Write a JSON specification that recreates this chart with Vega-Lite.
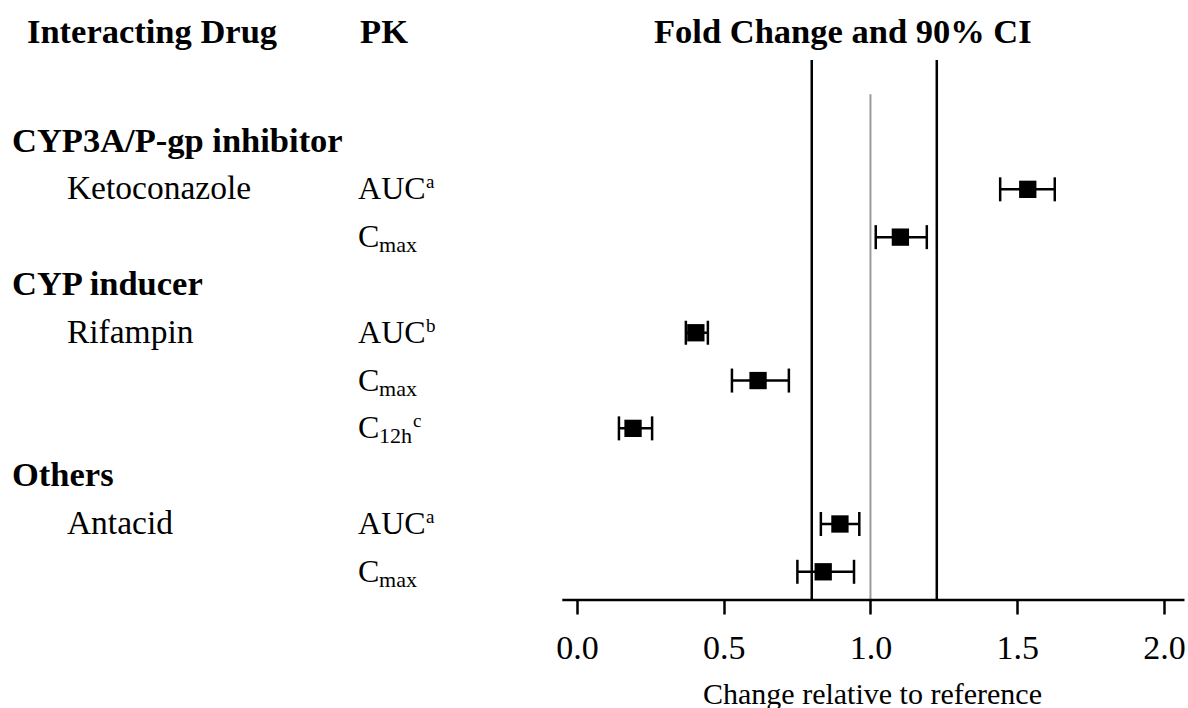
{
  "$schema": "https://vega.github.io/schema/vega-lite/v6.json",
  "width": 1188,
  "height": 600,
  "autosize": {"type": "none"},
  "padding": {"left": 0, "top": 0, "right": 0, "bottom": 108},
  "background": "white",
  "config": {"view": {"stroke": null}, "font": "Liberation Serif"},
  "datasets": {
    "est": [
      {"row": 1, "est": 1.536, "lo": 1.442, "hi": 1.628},
      {"row": 2, "est": 1.102, "lo": 1.018, "hi": 1.192},
      {"row": 4, "est": 0.405, "lo": 0.371, "hi": 0.446},
      {"row": 5, "est": 0.617, "lo": 0.528, "hi": 0.722},
      {"row": 6, "est": 0.191, "lo": 0.143, "hi": 0.256},
      {"row": 8, "est": 0.896, "lo": 0.831, "hi": 0.962},
      {"row": 9, "est": 0.839, "lo": 0.751, "hi": 0.944}
    ],
    "groups": [
      {"row": 0, "label": "CYP3A/P-gp inhibitor"},
      {"row": 3, "label": "CYP inducer"},
      {"row": 7, "label": "Others"}
    ],
    "drugs": [
      {"row": 1, "label": "Ketoconazole"},
      {"row": 4, "label": "Rifampin"},
      {"row": 8, "label": "Antacid"}
    ],
    "pk": [
      {"row": 1, "main": "AUC", "sub": "", "sup": "a"},
      {"row": 2, "main": "C", "sub": "max", "sup": ""},
      {"row": 4, "main": "AUC", "sub": "", "sup": "b"},
      {"row": 5, "main": "C", "sub": "max", "sup": ""},
      {"row": 6, "main": "C", "sub": "12h", "sup": "c"},
      {"row": 8, "main": "AUC", "sub": "", "sup": "a"},
      {"row": 9, "main": "C", "sub": "max", "sup": ""}
    ],
    "limits": [{"ref": 0.8}, {"ref": 1.226}],
    "unity": [{"ref": 1.0}],
    "one": [{"id": 1}]
  },
  "layer": [
    {
      "data": {"name": "limits"},
      "mark": {"type": "rule", "color": "black", "strokeWidth": 2.5},
      "encoding": {
        "x": {"field": "ref", "type": "quantitative",
          "scale": {"domain": [-1.966, 2.082], "nice": false, "zero": false},
          "axis": {"values": [0, 0.5, 1, 1.5, 2], "format": ".1f", "domain": false, "grid": false,
            "tickSize": 14, "tickWidth": 2.5, "tickColor": "black",
            "labelFont": "Liberation Serif", "labelFontSize": 34, "labelColor": "black", "labelPadding": 17,
            "labelFlush": false, "labelOverlap": false,
            "title": "Change relative to reference", "titleFont": "Liberation Serif", "titleFontSize": 30,
            "titleFontWeight": "normal", "titleColor": "black", "titleX": 872, "titleY": 103,
            "titleBaseline": "alphabetic", "titleAlign": "center"}},
        "y": {"datum": -1.705, "type": "quantitative",
          "scale": {"domain": [-2.96, 9.59], "reverse": true, "nice": false, "zero": false}, "axis": null},
        "y2": {"datum": 9.59}
      }
    },
    {
      "data": {"name": "unity"},
      "mark": {"type": "rule", "color": "#9a9a9a", "strokeWidth": 2},
      "encoding": {
        "x": {"field": "ref", "type": "quantitative"},
        "y": {"datum": -0.99, "type": "quantitative"},
        "y2": {"datum": 9.59}
      }
    },
    {
      "data": {"name": "one"},
      "mark": {"type": "rule", "color": "black", "strokeWidth": 2.5},
      "encoding": {
        "x": {"datum": -0.05, "type": "quantitative"},
        "x2": {"datum": 2.07},
        "y": {"datum": 9.59, "type": "quantitative"}
      }
    },
    {
      "data": {"name": "est"},
      "mark": {"type": "rule", "color": "black", "strokeWidth": 2.5},
      "encoding": {
        "x": {"field": "lo", "type": "quantitative"},
        "x2": {"field": "hi"},
        "y": {"field": "row", "type": "quantitative"}
      }
    },
    {
      "data": {"name": "est"},
      "mark": {"type": "tick", "orient": "vertical", "size": 24, "thickness": 2.5, "color": "black", "opacity": 1},
      "encoding": {
        "x": {"field": "lo", "type": "quantitative"},
        "y": {"field": "row", "type": "quantitative"}
      }
    },
    {
      "data": {"name": "est"},
      "mark": {"type": "tick", "orient": "vertical", "size": 24, "thickness": 2.5, "color": "black", "opacity": 1},
      "encoding": {
        "x": {"field": "hi", "type": "quantitative"},
        "y": {"field": "row", "type": "quantitative"}
      }
    },
    {
      "data": {"name": "est"},
      "mark": {"type": "square", "size": 300, "filled": true, "color": "black", "opacity": 1},
      "encoding": {
        "x": {"field": "est", "type": "quantitative"},
        "y": {"field": "row", "type": "quantitative"}
      }
    },
    {
      "data": {"name": "one"},
      "mark": {"type": "text", "text": "Interacting Drug", "font": "Liberation Serif", "fontWeight": "bold", "fontSize": 34.5, "align": "left", "baseline": "middle", "color": "black"},
      "encoding": {
        "x": {"datum": -1.874, "type": "quantitative"},
        "y": {"datum": -2.27, "type": "quantitative"}
      }
    },
    {
      "data": {"name": "one"},
      "mark": {"type": "text", "text": "PK", "font": "Liberation Serif", "fontWeight": "bold", "fontSize": 34.5, "align": "left", "baseline": "middle", "color": "black"},
      "encoding": {
        "x": {"datum": -0.739, "type": "quantitative"},
        "y": {"datum": -2.27, "type": "quantitative"}
      }
    },
    {
      "data": {"name": "one"},
      "mark": {"type": "text", "text": "Fold Change and 90% CI", "font": "Liberation Serif", "fontWeight": "bold", "fontSize": 34.5, "align": "center", "baseline": "middle", "color": "black"},
      "encoding": {
        "x": {"datum": 0.906, "type": "quantitative"},
        "y": {"datum": -2.27, "type": "quantitative"}
      }
    },
    {
      "data": {"name": "groups"},
      "mark": {"type": "text", "font": "Liberation Serif", "fontWeight": "bold", "fontSize": 34.5, "align": "left", "baseline": "middle", "color": "black"},
      "encoding": {
        "x": {"datum": -1.925, "type": "quantitative"},
        "y": {"field": "row", "type": "quantitative"},
        "text": {"field": "label"}
      }
    },
    {
      "data": {"name": "drugs"},
      "mark": {"type": "text", "font": "Liberation Serif", "fontSize": 33.5, "align": "left", "baseline": "middle", "color": "black"},
      "encoding": {
        "x": {"datum": -1.738, "type": "quantitative"},
        "y": {"field": "row", "type": "quantitative"},
        "text": {"field": "label"}
      }
    },
    {
      "data": {"name": "pk"},
      "mark": {"type": "text", "font": "Liberation Serif", "fontSize": 32, "align": "left", "baseline": "middle", "color": "black"},
      "encoding": {
        "x": {"datum": -0.746, "type": "quantitative"},
        "y": {"field": "row", "type": "quantitative"},
        "text": {"field": "main"}
      }
    },
    {
      "data": {"name": "pk"},
      "transform": [{"filter": "datum.main === 'C'"}],
      "mark": {"type": "text", "font": "Liberation Serif", "fontSize": 22, "align": "left", "baseline": "middle", "color": "black", "dx": 21, "dy": 8},
      "encoding": {
        "x": {"datum": -0.746, "type": "quantitative"},
        "y": {"field": "row", "type": "quantitative"},
        "text": {"field": "sub"}
      }
    },
    {
      "data": {"name": "pk"},
      "transform": [{"filter": "datum.main === 'AUC'"}],
      "mark": {"type": "text", "font": "Liberation Serif", "fontSize": 19, "align": "left", "baseline": "middle", "color": "black", "dx": 68, "dy": -7},
      "encoding": {
        "x": {"datum": -0.746, "type": "quantitative"},
        "y": {"field": "row", "type": "quantitative"},
        "text": {"field": "sup"}
      }
    },
    {
      "data": {"name": "pk"},
      "transform": [{"filter": "datum.main === 'C' && datum.sup !== ''"}],
      "mark": {"type": "text", "font": "Liberation Serif", "fontSize": 19, "align": "left", "baseline": "middle", "color": "black", "dx": 55, "dy": -7},
      "encoding": {
        "x": {"datum": -0.746, "type": "quantitative"},
        "y": {"field": "row", "type": "quantitative"},
        "text": {"field": "sup"}
      }
    }
  ]
}
